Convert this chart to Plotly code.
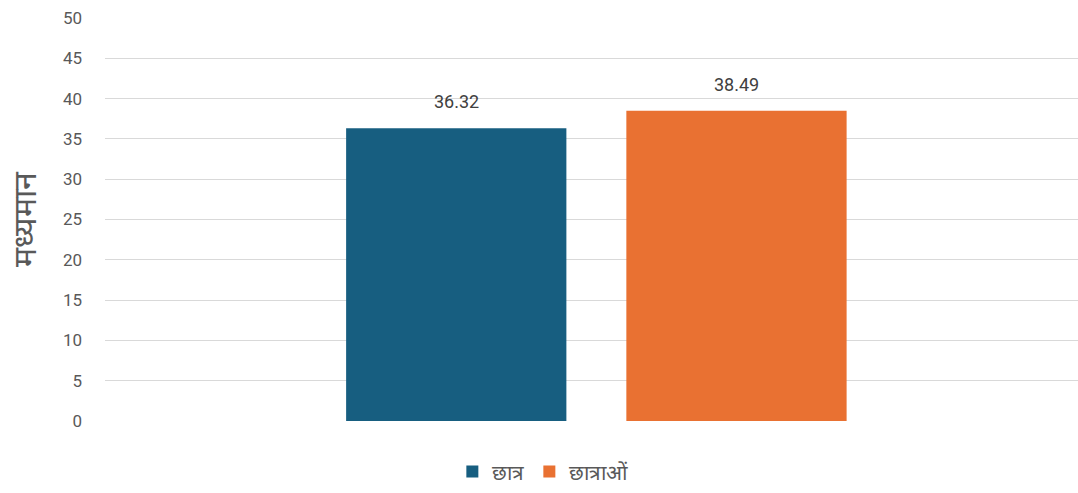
import plotly.graph_objects as go

# Mean scores by group
groups = ["छात्र", "छात्राओं"]
means = [36.32, 38.49]
colors = ["#175E80", "#E97132"]
category = [""]

y_ticks = [0, 5, 10, 15, 20, 25, 30, 35, 40, 45, 50]

BARGAP = 0.424
BARGROUPGAP = 0.214
LATIN = "Roboto, Liberation Sans, sans-serif"

fig = go.Figure()
for name, val, col in zip(groups, means, colors):
    fig.add_trace(go.Bar(
        x=category, y=[val], name=name,
        marker=dict(color=col, line=dict(width=0)),
        hoverinfo="name+y",
    ))

# value labels above each bar, centred on the bar's slot within the group
slot = (1 - BARGAP) / len(groups)
for i, val in enumerate(means):
    offset = (i - (len(groups) - 1) / 2) * slot
    fig.add_annotation(
        x=offset, y=val, xref="x", yref="y",
        text=f"{val:.2f}", showarrow=False,
        yanchor="bottom", yshift=14,
        font=dict(size=18, color="#404040", family=LATIN),
    )

fig.update_layout(
    width=1078, height=493,
    margin=dict(l=105, r=0, t=18, b=72, autoexpand=False),
    paper_bgcolor="white", plot_bgcolor="white",
    barmode="group", bargap=BARGAP, bargroupgap=BARGROUPGAP,
    font=dict(family=LATIN, color="#595959"),
    legend=dict(orientation="h", x=0.45, xanchor="center", y=-0.075, yanchor="top",
                font=dict(size=21, color="#595959"), itemwidth=30, traceorder="normal"),
    showlegend=True,
)
fig.update_xaxes(type="category", showticklabels=False, showgrid=False, zeroline=False,
                 showline=False, range=[-0.505, 0.495])
fig.update_yaxes(range=[0, 50], tickvals=y_ticks, showgrid=True, gridcolor="#D9D9D9",
                 gridwidth=1, zeroline=False, showline=False,
                 tickfont=dict(size=17, color="#595959"), ticklabelstandoff=22,
                 title=dict(text="मध्यमान", font=dict(size=32, color="#595959"), standoff=16))

fig.write_html("out.html")
